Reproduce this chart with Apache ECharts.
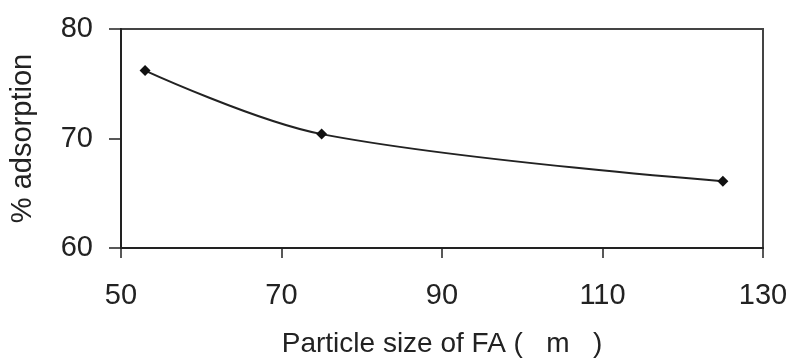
<!DOCTYPE html>
<html>
<head>
<meta charset="utf-8">
<script src="https://cdn.jsdelivr.net/npm/echarts@6/dist/echarts.min.js"></script>
<style>
  html, body { margin: 0; padding: 0; background: #fff; }
  #chart { width: 794px; height: 363px; }
</style>
</head>
<body>
<div id="chart"></div>
<script>
// Particle size of fly ash vs. percentage adsorption
const particleSize = [53, 75, 125];
const adsorption = [76.2, 70.4, 66.1];
const xTicks = [50, 70, 90, 110, 130];
const yTicks = [60, 70, 80];

const chart = echarts.init(document.getElementById('chart'), null, { renderer: 'canvas' });
const font = 'Liberation Sans, Arial, sans-serif';

chart.setOption({
  animation: false,
  backgroundColor: '#fff',
  grid: {
    left: 120, right: 31, top: 29, bottom: 113,
    show: true, borderColor: '#444', borderWidth: 2, backgroundColor: 'transparent'
  },
  xAxis: {
    type: 'value',
    min: xTicks[0], max: xTicks[xTicks.length - 1], interval: 20,
    name: 'Particle size of FA (   m   )',
    nameLocation: 'middle', nameGap: 82,
    nameTextStyle: { fontFamily: font, fontSize: 28, color: '#222' },
    axisLine: { lineStyle: { color: '#222', width: 2 } },
    axisTick: { show: true, length: 10, inside: false, lineStyle: { color: '#222', width: 1.5 } },
    axisLabel: { fontFamily: font, fontSize: 29, color: '#222', margin: 33 },
    splitLine: { show: false }
  },
  yAxis: {
    type: 'value',
    min: yTicks[0], max: yTicks[yTicks.length - 1], interval: 10,
    name: '% adsorption',
    nameLocation: 'middle', nameGap: 84, nameRotate: 90,
    nameTextStyle: { fontFamily: font, fontSize: 29, color: '#222' },
    axisLine: { show: true, lineStyle: { color: '#222', width: 2 } },
    axisTick: { show: true, length: 12, inside: false, lineStyle: { color: '#222', width: 1.5 } },
    axisLabel: { fontFamily: font, fontSize: 29, color: '#222', margin: 28 },
    splitLine: { show: false }
  },
  series: [{
    type: 'line',
    data: particleSize.map((x, i) => [x, adsorption[i]]),
    smooth: 0.35,
    symbol: 'diamond',
    symbolSize: 11,
    itemStyle: { color: '#111' },
    lineStyle: { color: '#222', width: 2 }
  }]
});
</script>
</body>
</html>
